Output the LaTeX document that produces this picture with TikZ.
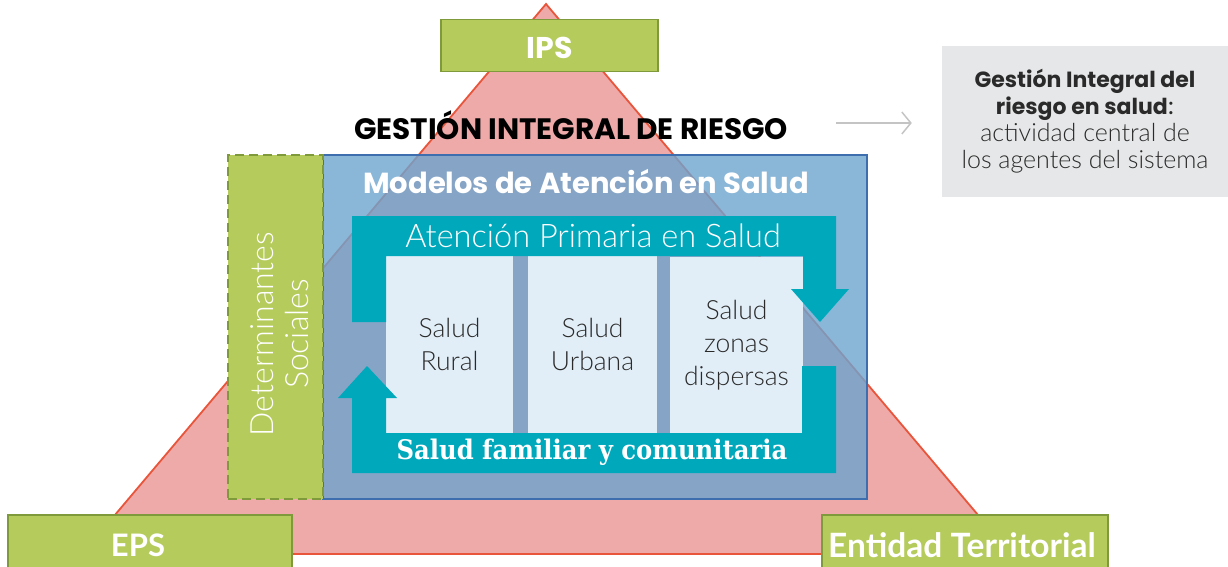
\documentclass[tikz,border=0pt]{standalone}
\usepackage{fontspec}
\setmainfont{Lato}
\newfontfamily\lightf{Lato Light}
\newfontfamily\popf{Poppins}
\newfontfamily\slabf{DejaVu Serif Condensed}
\usetikzlibrary{arrows.meta}
\definecolor{tripink}{HTML}{EEA9A9}
\definecolor{trired}{HTML}{E9553B}
\definecolor{lgreen}{HTML}{B5CB5C}
\definecolor{dgreen}{HTML}{7E9A3B}
\definecolor{mblue}{HTML}{6DA4CE}
\definecolor{bblue}{HTML}{3F6EAF}
\definecolor{tealc}{HTML}{00A8BC}
\definecolor{panelc}{HTML}{E1EEF8}
\definecolor{gboxc}{HTML}{E6E7E8}
\definecolor{garrow}{HTML}{C4C4C4}
\definecolor{txtc}{HTML}{2A2A2A}
\tikzset{
  agent/.style={draw=dgreen, line width=1.5pt, fill=lgreen, inner sep=0pt},
  agenttext/.style={text=white, inner sep=0pt, font=\bfseries\fontsize{31}{34}\selectfont},
  panelbox/.style={fill=panelc, inner sep=0pt, text=txtc, align=center, font=\lightf\fontsize{26.5}{33}\selectfont},
  tealshape/.style={fill=tealc},
}
\begin{document}
\begin{tikzpicture}[x=1pt,y=-1pt]
\useasboundingbox (0,0) rectangle (1228,566);
\clip (0,0) rectangle (1228,566);
% triangle
\draw[fill=tripink, draw=trired, line width=1.8pt] (546,4) -- (1011,554) -- (82,554) -- cycle;
% agents
\node[agent, minimum width=217pt, minimum height=52pt] (ips) at (549.5,45.5) {};
\node[agenttext, font=\popf\bfseries\fontsize{30}{32}\selectfont] (ipst) at ([yshift=-2pt]ips.center) {IPS};
\node[agent, minimum width=284pt, minimum height=70pt] (eps) at (150,550) {};
\node[agenttext] (epst) at (138,545) {EPS};
\node[agent, minimum width=286pt, minimum height=70pt] (ent) at (965,550) {};
\node[agenttext, font=\bfseries\fontsize{33.5}{36}\selectfont] (entt) at (962,545) {Entidad Territorial};
% title
\node[inner sep=0pt, font=\popf\bfseries\fontsize{29.5}{32}\selectfont] (gir) at (571,125) {GESTIÓN INTEGRAL DE RIESGO};
% blue box
\node[fill=mblue, fill opacity=0.8, draw=bblue, draw opacity=1, line width=1.5pt, minimum width=544pt, minimum height=344pt, inner sep=0pt] (mas) at (595,327) {};
\node[inner sep=0pt, text=white, font=\popf\bfseries\fontsize{29}{32}\selectfont] (mast) at (586,182) {Modelos de Atención en Salud};
% determinantes
\node[fill=lgreen, draw=dgreen, line width=2.5pt, dash pattern=on 9pt off 5pt, minimum width=95pt, minimum height=344pt, inner sep=0pt] (det) at (275.5,327) {};
\node[rotate=90, align=center, text=white, inner sep=0pt, font=\lightf\fontsize{32}{35}\selectfont] (dett) at (280,334) {Determinantes\\Sociales};
% panels
\node[panelbox, minimum width=127pt, minimum height=177pt] (p1) at (449.5,344.5) {Salud\\Rural};
\node[panelbox, minimum width=129pt, minimum height=177pt] (p2) at (592.5,344.5) {Salud\\Urbana};
\node[panelbox, minimum width=133pt, minimum height=177pt] (p3) at (736.5,345.5) {Salud\\zonas\\dispersas};
% teal cycle arrows
\fill[tealshape] (352,216) -- (836,216) -- (836,289) -- (849,289) -- (820,322) -- (791,289) -- (803,289) -- (803,256) -- (386,256) -- (386,322) -- (352,322) -- cycle;
\fill[tealshape] (352,473) -- (836,473) -- (836,366) -- (802,366) -- (802,433) -- (386,433) -- (386,398) -- (397,398) -- (367,366) -- (338,398) -- (352,398) -- cycle;
\node[inner sep=0pt, text=white, font=\lightf\fontsize{32.5}{34}\selectfont] (aps) at (593,236) {Atención Primaria en Salud};
\node[inner sep=0pt, text=white, font=\slabf\bfseries\fontsize{27}{30}\selectfont] (sfc) at (592,452) {Salud familiar y comunitaria};
% side note
\node[fill=gboxc, minimum width=286pt, minimum height=151pt, inner sep=0pt, align=center, text=txtc, font=\fontsize{25}{27}\selectfont] (gbox) at (1085,121.5)
  {{\popf\bfseries\fontsize{22}{27}\selectfont Gestión Integral del}\\{\popf\bfseries\fontsize{22}{27}\selectfont riesgo en salud}:\\{\lightf actividad central de}\\{\lightf los agentes del sistema}};
\coordinate (arrS) at (836,123);
\draw[garrow, line width=1.5pt, -{Straight Barb[length=9pt,width=22pt]}] (arrS) -- ([xshift=-30pt]gbox.west |- arrS);
\end{tikzpicture}
\end{document}
